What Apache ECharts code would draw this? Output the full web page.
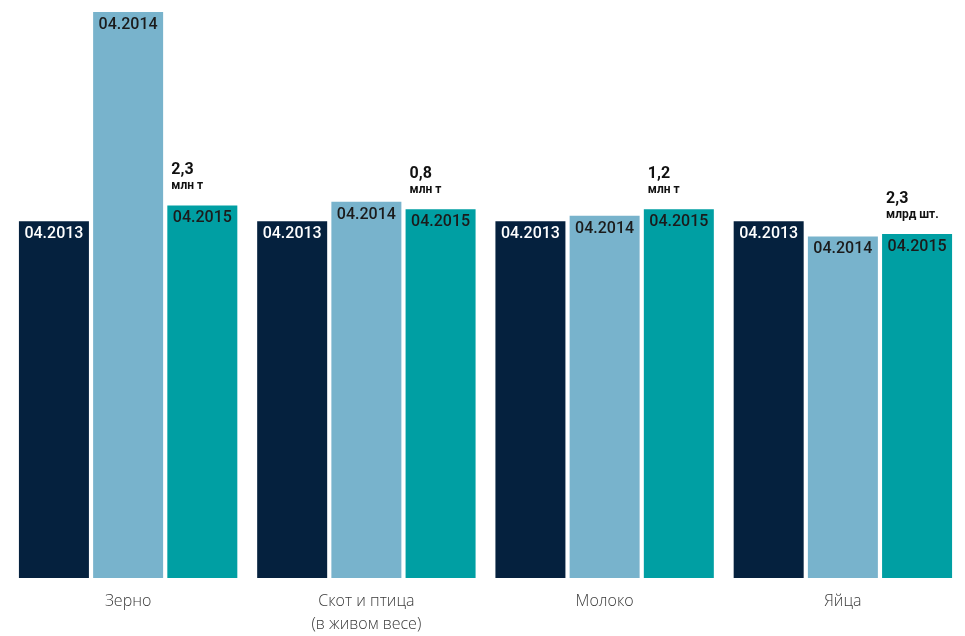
<!DOCTYPE html>
<html>
<head>
<meta charset="utf-8">
<script src="https://cdn.jsdelivr.net/npm/echarts@6/dist/echarts.min.js"></script>
<style>
html,body{margin:0;padding:0;background:#fff;}
#chart{width:965px;height:636px;}
</style>
</head>
<body>
<div id="chart"></div>
<script>
var categories = ['Зерно', 'Скот и птица\n(в живом весе)', 'Молоко', 'Яйца'];
var seriesNames = ['04.2013', '04.2014', '04.2015'];
var values2013 = [100, 100, 100, 100];
var values2014 = [158.6, 105.4, 101.5, 95.7];
var values2015 = [104.4, 103.3, 103.3, 96.4];
var annoValues = ['2,3', '0,8', '1,2', '2,3'];
var annoUnits = ['млн т', 'млн т', 'млн т', 'млрд шт.'];

var colors = ['#05213e', '#78b3cc', '#009fa3'];
var labelColors = ['#ffffff', '#1b1b1b', '#1b1b1b'];
var allValues = [values2013, values2014, values2015];

var chart = echarts.init(document.getElementById('chart'), null, {renderer: 'canvas'});

var series = allValues.map(function (vals, i) {
  var s = {
    name: seriesNames[i],
    type: 'bar',
    data: vals,
    barWidth: 70,
    barGap: '6%',
    itemStyle: {color: colors[i]},
    label: {
      show: true,
      position: 'insideTop',
      distance: 5,
      formatter: seriesNames[i],
      color: labelColors[i],
      fontFamily: 'Roboto',
      fontWeight: 500,
      fontSize: 16
    }
  };
  if (i === 2) {
    s.markPoint = {
      symbol: 'rect',
      symbolSize: 0,
      itemStyle: {color: 'rgba(0,0,0,0)'},
      data: categories.map(function (c, k) {
        return {coord: [c, vals[k]], value: k};
      }),
      label: {
        show: true,
        position: 'top',
        distance: 0,
        align: 'left',
        offset: [-31, -12],
        formatter: function (p) {
          return '{a|' + annoValues[p.value] + '}\n{b|' + annoUnits[p.value] + '}';
        },
        rich: {
          a: {fontFamily: 'Roboto', fontWeight: 'bold', fontSize: 16, color: '#111', lineHeight: 18},
          b: {fontFamily: 'Roboto', fontWeight: 'bold', fontSize: 12, color: '#111', lineHeight: 14}
        }
      }
    };
  }
  return s;
});

chart.setOption({
  animation: false,
  grid: {left: 9, right: 3, top: 7, height: 575},
  xAxis: {
    type: 'category',
    data: categories,
    axisLine: {show: false},
    axisTick: {show: false},
    axisLabel: {
      margin: 12,
      fontFamily: 'Open Sans',
      fontWeight: 300,
      fontSize: 16,
      lineHeight: 23,
      color: '#3a3a3a'
    }
  },
  yAxis: {
    type: 'value',
    min: 0,
    max: 160,
    show: false,
    splitLine: {show: false}
  },
  series: series
});
</script>
</body>
</html>
